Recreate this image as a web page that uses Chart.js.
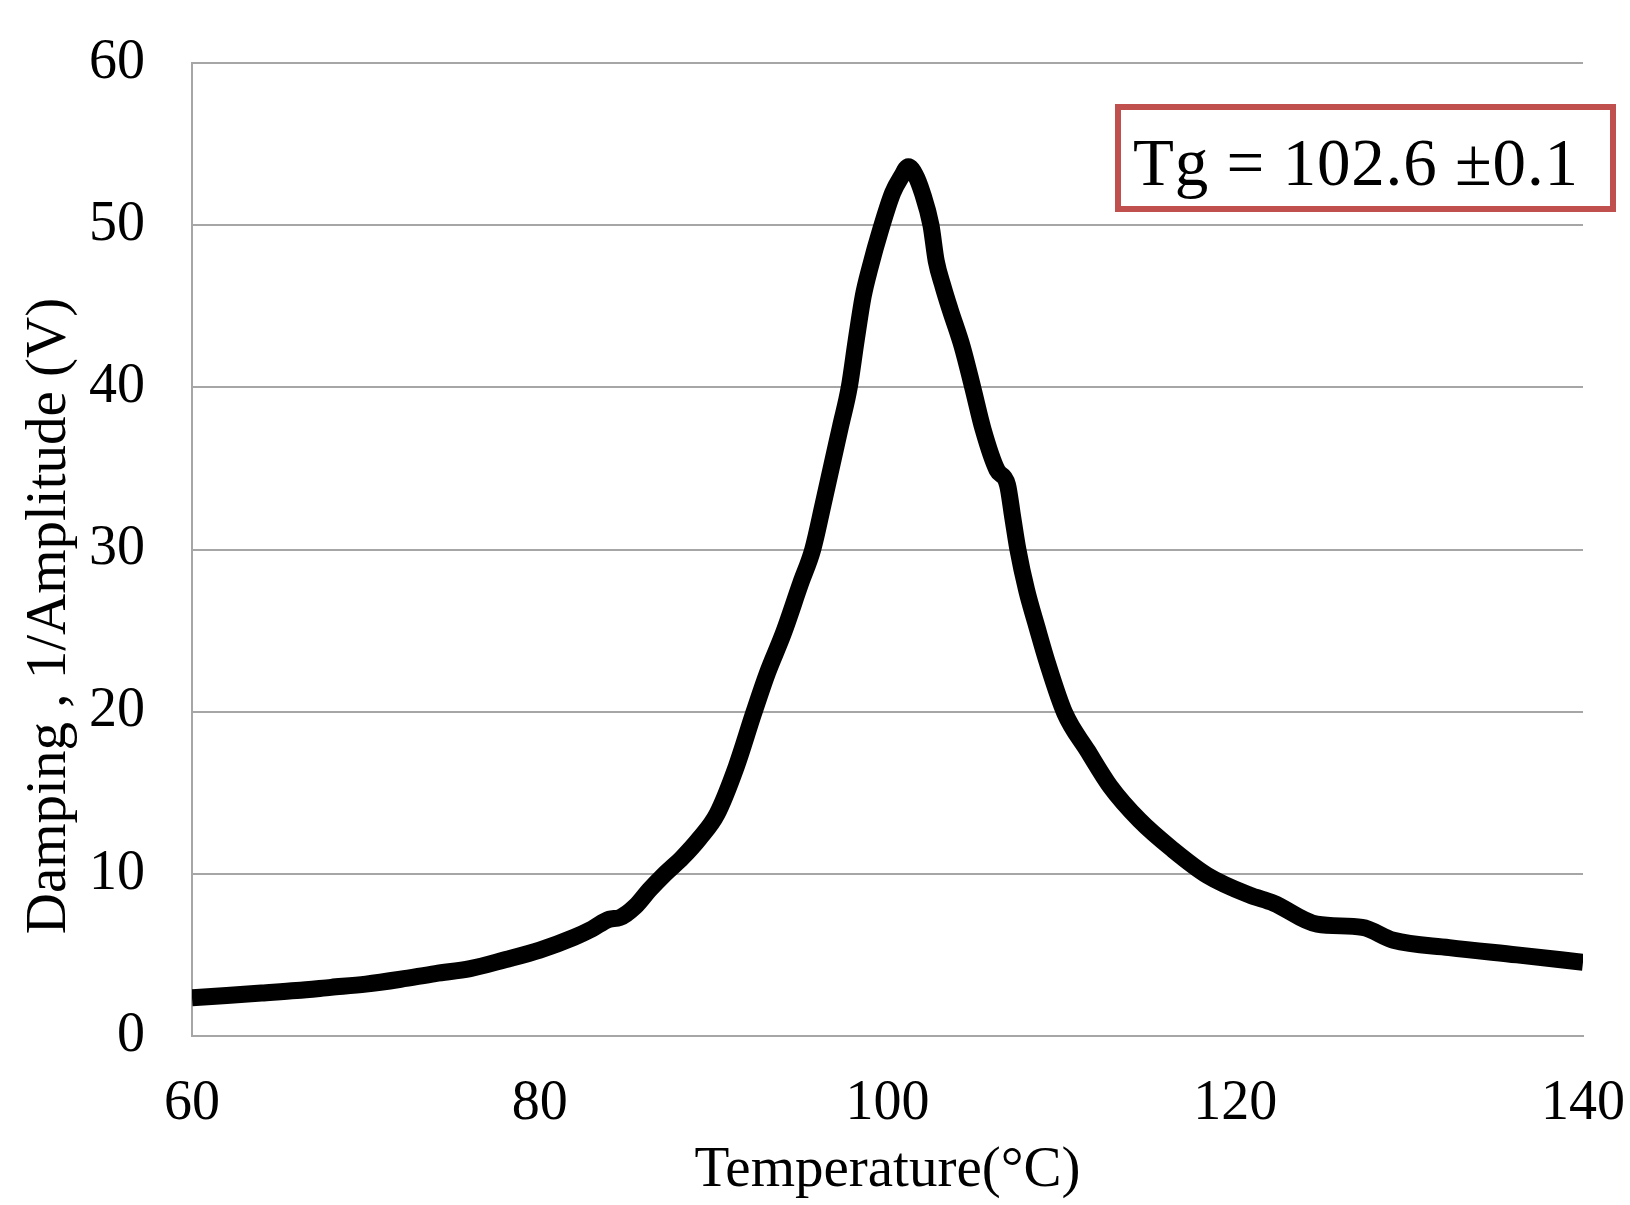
<html>
<head>
  <title>Damping vs Temperature</title>
  <meta charset="UTF-8">
  <script src="https://cdn.jsdelivr.net/npm/chart.js"></script>
  <style>
    body { margin: 0; background: #fff; }
    #wrap { position: absolute; left: 0; top: 0; width: 1630px; height: 1205px; }
    .serif { font-family: "Liberation Serif", "Times New Roman", serif; color: #000; }
    #ytitle {
      position: absolute; left: -354px; top: 588px; width: 800px; height: 56px;
      font-size: 57px; line-height: 56px; text-align: center; white-space: nowrap;
      transform: rotate(-90deg); transform-origin: 50% 50%;
    }
    #tgbox {
      position: absolute; left: 1115px; top: 104px; width: 501px; height: 108px;
      box-sizing: border-box; border: 6px solid #C0504D; background: #fff;
      font-size: 67px; line-height: 86px; padding: 9px 0 0 12px; white-space: nowrap;
      letter-spacing: 0.8px;
    }
  </style>
</head>
<body>
  <div id="wrap">
    <canvas id="damping-chart"></canvas>
  </div>
  <div id="ytitle" class="serif">Damping , 1/Amplitude (V)</div>
  <div id="tgbox" class="serif">Tg = 102.6 ±0.1</div>

  <script>
    // values
    const temperature = [60, 62, 64, 66, 68, 70, 72, 74, 76, 78, 80, 82, 83, 84, 84.6, 85.5, 86.3, 87.2, 88.2, 89.2,
      90.2, 91.3, 92.3, 93.1, 94.0, 95.0, 95.7, 96.3, 96.8, 97.3, 97.8, 98.2, 98.6, 99.0, 99.6, 100.3, 100.8, 101.2,
      101.6, 102.0, 102.5, 102.8, 103.2, 103.6, 104.3, 104.9, 105.5, 106.3, 106.9, 107.2, 107.5, 108.0, 108.6, 109.2,
      110.2, 111.5, 112.8, 114.5, 116.4, 118.4, 120.8, 122.2, 124.7, 127.3, 129.1, 132.3, 136.2, 140];
    const damping = [2.35, 2.5, 2.65, 2.8, 3.0, 3.2, 3.5, 3.85, 4.15, 4.7, 5.3, 6.1, 6.6, 7.2, 7.3, 8.0, 9.0, 10.0, 11.0, 12.2,
      13.7, 16.6, 19.9, 22.4, 24.8, 27.9, 30.0, 32.8, 35.2, 37.6, 40.0, 42.9, 45.6, 47.4, 49.7, 52.0, 53.0, 53.6,
      53.1, 52.0, 50.0, 47.8, 46.2, 44.8, 42.5, 40.0, 37.4, 34.9, 34.0, 32.0, 30.0, 27.5, 25.2, 23.0,
      19.9, 17.6, 15.4, 13.3, 11.5, 9.9, 8.7, 8.2, 6.9, 6.7, 5.9, 5.45, 5.0, 4.55];
    const xTicks = [60, 80, 100, 120, 140];
    const yTicks = [0, 10, 20, 30, 40, 50, 60];

    const serif = '"Liberation Serif", "Times New Roman", serif';
    const gridGray = '#a6a6a6';

    function noPad(s) {
      s.paddingTop = 0; s.paddingBottom = 0; s.paddingLeft = 0; s.paddingRight = 0;
    }

    const ctx = document.getElementById('damping-chart').getContext('2d');
    new Chart(ctx, {
      type: 'line',
      data: {
        datasets: [{
          label: 'Damping',
          data: temperature.map((t, i) => ({ x: t, y: damping[i] })),
          borderColor: '#000',
          backgroundColor: '#000',
          borderWidth: 17,
          pointRadius: 0,
          cubicInterpolationMode: 'monotone',
          borderJoinStyle: 'round',
          clip: 0
        }]
      },
      options: {
        animation: false,
        responsive: true,
        maintainAspectRatio: false,
        layout: { padding: { top: 63, right: 47, left: 0, bottom: 0 } },
        plugins: { legend: { display: false }, tooltip: { enabled: false } },
        scales: {
          x: {
            type: 'linear',
            min: xTicks[0],
            max: xTicks[xTicks.length - 1],
            afterBuildTicks: s => { s.ticks = xTicks.map(v => ({ value: v })); },
            afterFit: s => { s.height = 169; noPad(s); },
            ticks: { padding: 35, color: '#000', font: { family: serif, size: 56 } },
            grid: { display: false, drawTicks: false },
            border: { color: gridGray, width: 2 },
            title: {
              display: true, text: 'Temperature(°C)', color: '#000', padding: 0,
              font: { family: serif, size: 57 }
            }
          },
          y: {
            min: yTicks[0],
            max: yTicks[yTicks.length - 1],
            afterBuildTicks: s => { s.ticks = yTicks.map(v => ({ value: v })); },
            afterFit: s => { s.width = 192; noPad(s); },
            ticks: { padding: 47, color: '#000', font: { family: serif, size: 56 } },
            grid: { color: gridGray, lineWidth: 2, drawTicks: false },
            border: { color: gridGray, width: 2 }
          }
        }
      }
    });
  </script>
</body>
</html>
